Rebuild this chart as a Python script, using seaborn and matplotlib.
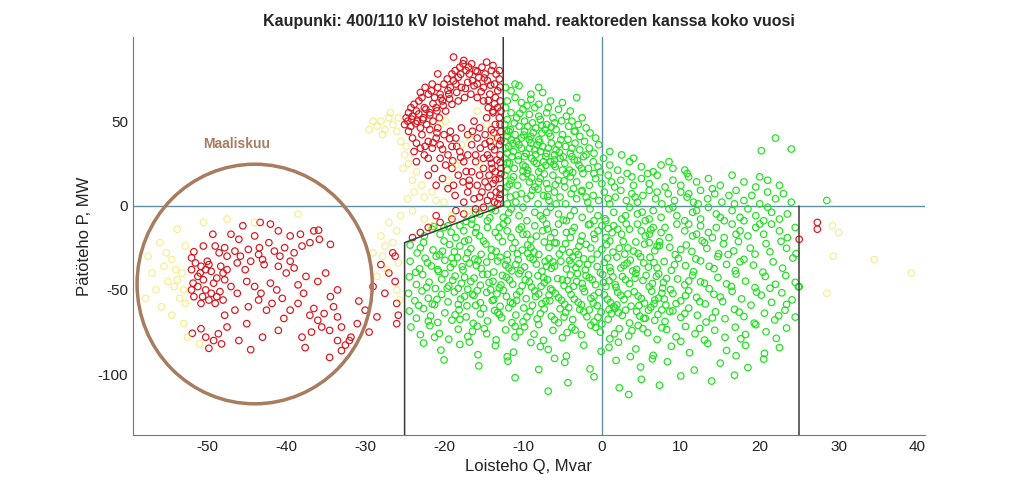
import numpy as np
import pandas as pd
import seaborn as sns
import matplotlib
matplotlib.use("Agg")
import matplotlib.pyplot as plt
from matplotlib.patches import Ellipse

# Loisteho Q (Mvar), pätöteho P (MW) -- arvioitu kuvasta
green_pts = [
    # yläosa, Q > -12.5, P > 0
    (-12.2, 70), (-11.5, 68), (-10.5, 71), (-9.0, 66), (-7.5, 67), (-11.0, 72), (-8.0, 70),
    (-12.0, 62), (-11.0, 64), (-10.2, 61), (-9.0, 63), (-8.0, 60), (-6.5, 62), (-5.0, 61), (-3.2, 64),
    (-12.2, 58), (-11.5, 55), (-10.8, 52), (-10.0, 57), (-9.2, 54), (-8.5, 58), (-7.8, 51), (-7.0, 55),
    (-6.2, 52), (-5.5, 57), (-4.5, 53), (-3.8, 50), (-12.0, 51), (-9.8, 50), (-8.0, 53), (-6.8, 58),
    (-4.0, 56), (-2.5, 52),
    (-12.3, 48), (-11.6, 45), (-11.0, 42), (-10.5, 47), (-9.8, 44), (-9.0, 41), (-8.4, 46), (-7.6, 43),
    (-7.0, 48), (-6.5, 41), (-5.8, 45), (-5.0, 42), (-4.2, 47), (-3.5, 44), (-2.8, 41), (-2.0, 46),
    (-1.5, 43), (-12.0, 41), (-10.2, 40), (-8.8, 49), (-6.0, 49), (-3.0, 48), (-0.8, 40), (-11.8, 44),
    (-9.4, 47), (-7.2, 45),
    (-12.3, 38), (-11.8, 35), (-11.2, 32), (-10.8, 38), (-10.2, 34), (-9.6, 31), (-9.0, 37), (-8.5, 33),
    (-8.0, 39), (-7.5, 35), (-7.0, 31), (-6.4, 37), (-5.8, 33), (-5.2, 39), (-4.6, 35), (-4.0, 31),
    (-3.4, 37), (-2.8, 33), (-2.2, 38), (-1.6, 34), (-1.0, 31), (-0.4, 36), (-12.0, 31), (-10.5, 36),
    (-9.2, 39), (-7.8, 32), (-6.8, 34), (-5.5, 36), (-3.8, 34), (1.0, 32), (2.5, 30), (-11.5, 39),
    (-8.2, 36), (-6.0, 30), (-2.0, 30),
    (-12.3, 28), (-11.7, 25), (-11.1, 22), (-10.6, 27), (-10.0, 24), (-9.4, 21), (-8.9, 28), (-8.3, 25),
    (-7.7, 22), (-7.1, 29), (-6.5, 26), (-5.9, 23), (-5.3, 28), (-4.7, 25), (-4.1, 21), (-3.5, 27),
    (-2.9, 24), (-2.3, 29), (-1.7, 22), (-1.1, 26), (-0.5, 23), (0.2, 28), (1.0, 24), (2.0, 21),
    (3.5, 26), (5.0, 23), (6.5, 20), (-12.0, 21), (-9.8, 29), (-7.4, 26), (-5.0, 21), (-2.6, 22),
    (-0.2, 20), (4.0, 28), (7.5, 24), (9.0, 22), (10.5, 21), (-11.4, 29), (-8.0, 20), (-6.0, 27),
    (-3.8, 29), (8.5, 26),
    (-12.3, 18), (-11.5, 15), (-10.7, 12), (-10.0, 17), (-9.2, 14), (-8.5, 11), (-7.8, 16), (-7.0, 13),
    (-6.2, 18), (-5.5, 15), (-4.7, 11), (-4.0, 17), (-3.2, 14), (-2.4, 19), (-1.6, 12), (-0.8, 16),
    (0.0, 13), (0.8, 18), (1.6, 11), (2.4, 15), (3.2, 19), (4.0, 12), (5.0, 16), (6.0, 13), (7.0, 18),
    (8.0, 11), (9.0, 15), (10.0, 12), (11.0, 17), (12.0, 14), (13.5, 16), (15.0, 12), (16.5, 18),
    (18.0, 14), (19.5, 11), (21.0, 15), (-12.0, 11), (-9.5, 19), (-6.8, 10), (-3.6, 10), (-1.0, 19),
    (1.2, 14), (3.8, 17), (5.8, 19), (10.8, 19), (14.0, 10), (20.0, 17), (22.5, 12), (-11.2, 17),
    (-8.0, 14), (-4.5, 19),
    (-12.3, 8), (-11.6, 5), (-10.9, 2), (-10.2, 7), (-9.5, 4), (-8.8, 9), (-8.1, 1), (-7.4, 6), (-6.7, 3),
    (-6.0, 8), (-5.3, 5), (-4.6, 1), (-3.9, 7), (-3.2, 4), (-2.5, 9), (-1.8, 2), (-1.1, 6), (-0.4, 3),
    (0.3, 8), (1.0, 1), (1.7, 5), (2.4, 9), (3.1, 3), (3.8, 7), (4.5, 2), (5.2, 6), (6.0, 9), (6.8, 4),
    (7.6, 1), (8.4, 7), (9.2, 3), (10.0, 8), (10.8, 5), (11.6, 2), (12.5, 9), (13.4, 4), (14.3, 7),
    (15.2, 2), (16.1, 6), (17.0, 9), (18.0, 3), (19.0, 6), (20.0, 1), (21.0, 8), (22.0, 4), (23.0, 7),
    (24.0, 2), (-12.0, 1), (-9.0, 6), (-5.8, 1), (-2.0, 5), (0.8, 4), (4.2, 5), (7.0, 8), (11.0, 7),
    (16.8, 1), (12.2, 1),
    (20.2, 32.5), (22.0, 40), (24.0, 33.5), (28.5, 3),
    # alaosa, P < 0
    (-16.5, -8), (-15.5, -5), (-14.5, -9), (-13.5, -3), (-12.5, -7), (-11.5, -2), (-10.5, -6),
    (-9.5, -9), (-8.5, -4), (-7.5, -8), (-6.5, -1), (-5.5, -5), (-4.5, -9), (-3.5, -3), (-2.5, -7),
    (-1.5, -2), (-0.5, -6), (0.5, -9), (1.5, -4), (2.5, -8), (3.5, -1), (4.5, -5), (5.5, -9), (6.5, -3),
    (7.5, -7), (8.5, -2), (9.5, -6), (10.5, -9), (11.5, -4), (12.5, -8), (13.5, -1), (14.5, -5),
    (15.5, -9), (16.5, -3), (17.5, -7), (18.5, -2), (19.5, -6), (20.5, -9), (21.5, -4), (22.5, -8),
    (-14.0, -2), (-10.0, -1), (-7.0, -4), (-4.0, -6), (-1.0, -9), (3.0, -6), (6.0, -8), (9.0, -1),
    (12.0, -3), (15.0, -7), (18.0, -9), (21.0, -1), (23.5, -5), (-12.0, -9), (-16.0, -4),
    (-22.5, -18), (-21.5, -14), (-20.5, -17), (-19.5, -12), (-18.5, -19), (-17.5, -15), (-16.5, -11),
    (-15.5, -18), (-14.5, -13), (-13.5, -16), (-12.5, -11), (-11.5, -19), (-10.5, -14), (-9.5, -17),
    (-8.5, -12), (-7.5, -15), (-6.5, -19), (-5.5, -11), (-4.5, -16), (-3.5, -13), (-2.5, -18),
    (-1.5, -11), (-0.5, -15), (0.5, -19), (1.5, -12), (2.5, -17), (3.5, -14), (4.5, -11), (5.5, -18),
    (6.5, -13), (7.5, -16), (8.5, -19), (9.5, -11), (10.5, -15), (11.5, -18), (12.5, -12), (13.5, -16),
    (14.5, -13), (15.5, -19), (16.5, -11), (17.5, -15), (18.5, -18), (19.5, -13), (20.5, -17),
    (21.5, -11), (22.5, -15), (23.5, -19), (24.5, -13), (-20.0, -13), (-16.0, -16), (-13.0, -13),
    (-10.0, -17), (-7.0, -11), (-4.0, -19), (-1.0, -17), (2.0, -14), (5.0, -15), (8.0, -13), (11.0, -11),
    (14.0, -19), (17.0, -17), (20.0, -11), (-18.0, -12), (-12.0, -15), (-6.0, -16), (0.0, -12),
    (6.0, -17), (12.0, -17),
    (-24.3, -23.4), (-23.4, -28.1), (-22.6, -21.9), (-21.4, -26.3), (-20.6, -29.2), (-19.3, -23.1),
    (-18.7, -27.4), (-17.4, -21.2), (-16.6, -25.6), (-15.3, -28.9), (-14.7, -22.8), (-13.4, -27.1),
    (-12.6, -21.4), (-11.3, -25.3), (-10.7, -28.6), (-9.4, -23.3), (-8.6, -27.5), (-7.3, -21.6),
    (-6.7, -24.8), (-5.4, -28.7), (-4.6, -22.6), (-3.3, -27.3), (-2.7, -21.1), (-1.4, -25.2),
    (-0.6, -28.8), (0.6, -23.2), (1.4, -27.6), (2.7, -21.3), (3.3, -25.1), (4.6, -28.4), (5.4, -22.9),
    (6.7, -26.8), (7.3, -21.5), (8.6, -24.7), (9.3, -29.1), (10.7, -23.4), (11.4, -27.2), (12.7, -20.9),
    (13.3, -25.4), (14.8, -28.6), (15.4, -22.7), (16.7, -26.9), (17.3, -21.3), (18.8, -25.2),
    (19.4, -28.8), (20.8, -22.6), (21.3, -27.4), (22.7, -21.2), (23.4, -25.3), (24.6, -28.5),
    (-23.0, -25), (-20.0, -21), (-17.0, -28), (-14.0, -26), (-11.0, -22), (-8.0, -29), (-5.0, -26),
    (-2.0, -23), (1.0, -21), (4.0, -27), (7.0, -24), (10.0, -26), (13.0, -22), (16.0, -29),
    (-18.0, -24), (-12.0, -29), (-6.0, -22), (0.0, -26), (6.0, -22), (-15.0, -21), (-9.0, -25), (-3.0, -29),
    (-24.3, -33), (-23.1, -37.5), (-22.4, -31.2), (-21.6, -35.8), (-20.7, -39.1), (-19.9, -32.4),
    (-19.2, -36.6), (-18.3, -30.8), (-17.6, -38.2), (-16.8, -34.1), (-16.1, -31.7), (-15.3, -37.3),
    (-14.6, -33.5), (-13.7, -39.4), (-12.9, -30.6), (-12.2, -35.2), (-11.4, -38.7), (-10.6, -32.1),
    (-9.8, -36.4), (-9.1, -30.9), (-8.3, -34.7), (-7.6, -38.9), (-6.7, -31.5), (-6.0, -35.9),
    (-5.2, -33.0), (-4.5, -37.6), (-3.7, -30.3), (-2.9, -34.4), (-2.1, -38.1), (-1.3, -31.8),
    (-0.6, -36.2), (0.3, -33.7), (1.1, -39.0), (1.9, -30.5), (2.8, -35.4), (3.6, -32.3), (4.4, -37.8),
    (5.3, -34.0), (6.1, -30.7), (7.0, -36.9), (7.9, -33.2), (8.8, -38.4), (9.7, -31.3), (10.6, -35.6),
    (11.6, -39.2), (12.5, -32.8), (13.6, -36.0), (14.7, -30.2), (15.8, -34.9), (16.9, -38.6),
    (18.0, -31.9), (19.2, -35.3), (20.4, -39.5), (21.7, -33.4), (22.9, -37.1), (24.2, -31.1),
    (-23.6, -39.6), (-21.0, -30.1), (-18.8, -34.3), (-15.9, -35.5), (-13.2, -32.9), (-10.9, -34.9),
    (-8.7, -32.0), (-6.4, -37.2), (-4.1, -32.6), (-1.8, -35.0), (0.7, -31.2), (2.4, -37.0), (4.9, -30.4),
    (6.6, -33.8), (9.2, -35.1), (11.9, -31.6), (14.2, -37.4), (17.5, -33.3), (-17.2, -31.4),
    (-11.8, -37.0), (-7.2, -33.1), (-3.3, -36.8), (-0.2, -39.8), (3.2, -34.1),
    (-24.4, -42.3), (-23.5, -46.8), (-22.7, -41.0), (-21.9, -45.4), (-21.1, -49.2), (-20.3, -43.6),
    (-19.4, -47.7), (-18.6, -41.8), (-17.8, -46.1), (-17.0, -49.6), (-16.2, -43.0), (-15.4, -47.2),
    (-14.5, -40.7), (-13.8, -44.9), (-13.0, -48.8), (-12.1, -42.5), (-11.3, -46.6), (-10.5, -40.4),
    (-9.7, -44.1), (-8.9, -48.3), (-8.1, -41.6), (-7.3, -45.8), (-6.5, -49.4), (-5.6, -43.3),
    (-4.8, -47.4), (-4.0, -41.2), (-3.2, -45.0), (-2.4, -49.0), (-1.6, -42.8), (-0.8, -46.9),
    (0.1, -40.9), (0.9, -44.6), (1.8, -48.5), (2.6, -42.1), (3.5, -46.3), (4.3, -40.2), (5.2, -44.4),
    (6.0, -48.1), (6.9, -41.9), (7.8, -45.6), (8.7, -49.8), (9.6, -43.5), (10.5, -47.0), (11.5, -41.3),
    (12.5, -45.2), (13.6, -49.3), (14.7, -42.6), (15.8, -46.4), (17.0, -40.6), (18.2, -44.8),
    (19.4, -48.6), (20.7, -42.0), (22.0, -46.7), (23.3, -41.5), (24.5, -45.5), (24.9, -48.2),
    (-22.2, -48.4), (-19.9, -40.3), (-16.6, -45.0), (-14.1, -49.9), (-11.7, -44.2), (-9.3, -41.1),
    (-6.9, -43.9), (-4.4, -44.5), (-2.0, -41.5), (0.5, -48.0), (3.0, -44.0), (5.6, -41.4), (8.2, -43.2),
    (11.0, -44.7), (13.0, -46.0), (16.4, -48.0), (21.3, -49.0), (-18.2, -49.1), (-12.6, -41.4),
    (-7.7, -47.9), (-3.6, -47.9), (1.4, -42.3), (6.4, -46.2), (-1.2, -44.0), (-10.1, -47.5),
    (-24.5, -52.0), (-23.7, -56.4), (-22.8, -50.6), (-22.0, -54.9), (-21.2, -58.8), (-20.3, -52.7),
    (-19.5, -57.1), (-18.7, -51.2), (-17.9, -55.5), (-17.1, -59.4), (-16.2, -53.3), (-15.4, -57.6),
    (-14.6, -51.5), (-13.7, -55.8), (-12.9, -59.7), (-12.1, -53.9), (-11.3, -58.0), (-10.4, -50.9),
    (-9.6, -55.2), (-8.8, -59.1), (-8.0, -52.4), (-7.1, -56.7), (-6.3, -50.3), (-5.5, -54.6),
    (-4.7, -58.5), (-3.9, -52.8), (-3.0, -57.3), (-2.2, -51.0), (-1.4, -55.0), (-0.6, -59.3),
    (0.3, -53.0), (1.1, -57.5), (2.0, -51.4), (2.8, -55.7), (3.7, -59.6), (4.6, -53.6), (5.4, -57.8),
    (6.3, -50.7), (7.2, -54.8), (8.1, -58.9), (9.0, -52.2), (10.0, -56.5), (11.0, -50.5), (12.0, -54.4),
    (13.1, -58.3), (14.2, -52.6), (15.3, -56.9), (16.5, -50.8), (17.7, -55.3), (18.9, -59.0),
    (20.2, -53.1), (21.5, -57.4), (22.8, -51.7), (24.1, -55.9), (-23.2, -59.2), (-20.9, -55.6),
    (-18.2, -58.6), (-15.8, -50.4), (-13.3, -52.3), (-10.8, -56.2), (-8.4, -54.0), (-5.9, -52.1),
    (-3.5, -55.4), (-1.0, -53.6), (1.5, -59.9), (4.1, -51.1), (6.7, -56.0), (9.4, -58.1), (12.4, -57.0),
    (15.0, -54.2), (19.6, -51.3), (23.4, -58.6), (-17.4, -53.8), (-12.5, -50.2), (-7.6, -58.2),
    (-2.6, -58.8), (2.4, -53.2), (7.6, -52.0), (0.7, -55.5), (5.0, -55.1), (-5.1, -56.1), (10.6, -53.4),
    (-24.4, -62.5), (-23.5, -66.8), (-22.6, -61.1), (-21.7, -65.4), (-20.8, -69.3), (-19.9, -63.6),
    (-19.0, -67.9), (-18.1, -61.8), (-17.2, -66.0), (-16.3, -69.8), (-15.4, -64.2), (-14.5, -68.4),
    (-13.6, -62.2), (-12.7, -66.5), (-11.8, -60.6), (-10.9, -64.9), (-10.0, -68.9), (-9.1, -62.9),
    (-8.2, -67.2), (-7.3, -61.3), (-6.4, -65.6), (-5.5, -69.5), (-4.6, -63.4), (-3.7, -67.6),
    (-2.8, -61.6), (-1.9, -65.9), (-1.0, -69.0), (-0.1, -63.1), (0.8, -67.4), (1.7, -60.9), (2.6, -65.1),
    (3.5, -69.6), (4.4, -62.7), (5.3, -66.9), (6.2, -60.4), (7.1, -64.6), (8.0, -68.7), (9.0, -62.4),
    (10.0, -66.3), (11.0, -60.8), (12.1, -65.0), (13.2, -69.1), (14.4, -63.0), (15.6, -67.1),
    (16.8, -61.5), (18.0, -65.8), (19.3, -69.7), (20.6, -63.8), (21.9, -67.8), (23.2, -62.0),
    (24.5, -66.1), (-22.0, -68.5), (-18.6, -64.8), (-15.0, -61.0), (-11.4, -69.4), (-7.8, -64.0),
    (-4.2, -60.5), (-0.5, -66.2), (3.0, -62.0), (6.7, -68.0), (10.5, -64.0), (14.0, -66.6),
    (17.4, -63.2), (22.4, -65.3), (-13.0, -64.5), (-6.0, -67.7), (1.2, -64.1), (7.6, -61.8),
    (4.8, -65.5), (-2.3, -63.0), (-9.5, -66.0),
    (-24.2, -72.0), (-23.0, -76.5), (-21.8, -71.2), (-20.6, -75.8), (-19.4, -79.2), (-18.2, -73.3),
    (-17.0, -77.6), (-15.8, -71.5), (-14.6, -75.9), (-13.4, -79.6), (-12.2, -73.7), (-11.0, -77.9),
    (-9.8, -71.9), (-8.6, -76.2), (-7.4, -79.9), (-6.2, -74.0), (-5.0, -78.3), (-3.8, -72.3),
    (-2.6, -76.6), (-1.4, -70.9), (-0.2, -75.0), (1.0, -79.0), (2.2, -73.0), (3.4, -77.2), (4.6, -71.1),
    (5.8, -75.4), (7.0, -79.4), (8.2, -73.5), (9.4, -77.8), (10.6, -71.7), (11.8, -76.0), (13.0, -79.7),
    (14.3, -73.9), (15.6, -78.1), (16.9, -72.1), (18.2, -76.4), (19.5, -70.6), (20.8, -74.8),
    (22.1, -78.7), (23.4, -72.6), (-16.4, -74.5), (-10.4, -74.8), (-4.4, -75.3), (1.6, -76.0),
    (7.6, -72.4), (12.4, -72.8), (17.6, -79.0), (-21.2, -78.0), (-0.8, -72.2), (5.2, -73.0),
    (-22.6, -81.5), (-20.4, -85.7), (-18.0, -82.3), (-15.7, -88.4), (-13.5, -83.0), (-11.2, -86.9),
    (-9.0, -81.2), (-6.8, -85.3), (-4.5, -89.1), (-2.3, -82.7), (-0.1, -86.4), (2.1, -81.0),
    (4.3, -85.0), (6.5, -88.8), (8.8, -83.4), (11.1, -87.2), (13.4, -81.7), (15.8, -85.9),
    (18.2, -82.9), (20.6, -87.6), (-16.8, -80.9), (-7.8, -83.6), (0.9, -84.0), (10.0, -80.5),
    (22.5, -84.2), (-12.0, -89.6), (3.6, -89.5), (17.0, -89.0),
    (-20.0, -91.5), (-15.6, -95.0), (-11.9, -92.2), (-8.0, -97.1), (-4.7, -93.0), (-1.5, -96.8),
    (1.8, -91.8), (4.9, -95.7), (8.3, -92.6), (11.7, -97.5), (15.0, -93.4), (18.5, -96.0),
    (-6.0, -90.6), (6.4, -90.9), (20.5, -91.0),
    (-11.0, -102.0), (-4.3, -105.0), (-1.0, -101.5), (2.2, -108.0), (5.0, -103.0), (7.3, -106.5),
    (10.0, -101.0), (13.9, -104.0), (-6.8, -110.0), (3.4, -112.0), (16.8, -100.5), (25.0, -48.0),
]

# tihein ydin (lisäpisteet)
green_core = [
    (-21.3, -12.5), (-19.1, -15.8), (-17.2, -9.4), (-15.9, -13.1), (-14.2, -7.2), (-13.1, -18.6),
    (-11.8, -4.3), (-10.2, -12.7), (-9.0, -20.4), (-7.8, -6.1), (-6.9, -13.9), (-5.8, -22.2),
    (-4.9, -8.6), (-3.8, -15.3), (-2.9, -24.1), (-1.7, -11.4), (-0.9, -19.7), (0.4, -7.8),
    (1.3, -16.1), (2.2, -25.3), (3.1, -10.9), (4.3, -21.6), (5.1, -3.9), (6.2, -14.4), (7.3, -23.8),
    (-22.1, -33.9), (-20.2, -27.1), (-18.9, -44.3), (-17.7, -36.2), (-16.4, -52.6), (-15.1, -40.8),
    (-14.0, -30.1), (-12.8, -47.1), (-11.6, -57.3), (-10.3, -38.5), (-9.4, -28.3), (-8.5, -50.6),
    (-7.4, -42.7), (-6.2, -33.4), (-5.3, -61.2), (-4.2, -49.8), (-3.1, -40.3), (-2.3, -31.6),
    (-1.1, -57.8), (0.2, -45.6), (1.0, -36.7), (2.1, -63.5), (3.3, -52.4), (4.2, -43.1), (5.5, -66.8),
    (6.6, -58.2), (7.7, -48.9), (8.6, -62.7), (-21.5, -58.4), (-19.6, -49.0), (-18.0, -67.5),
    (-16.0, -59.1), (-14.9, -73.0), (-13.2, -63.4), (-11.0, -71.6), (-9.9, -60.7), (-8.0, -70.5),
    (-6.6, -56.4), (-4.8, -66.1), (-3.4, -73.8), (-1.6, -61.9), (0.0, -70.2), (1.9, -58.9),
    (3.8, -74.1), (5.9, -62.0), (7.9, -55.4),
    (-20.8, -38.0), (-19.0, -31.0), (-17.4, -42.5), (-15.7, -32.8), (-13.9, -56.3), (-12.0, -32.5),
    (-10.8, -52.9), (-9.2, -45.3), (-7.0, -36.0), (-5.0, -44.0), (-3.9, -34.6), (-2.5, -46.2),
    (-0.4, -51.5), (1.7, -46.9), (3.9, -38.8), (5.9, -36.5), (7.2, -40.5), (-14.3, -45.6),
    (-6.7, -53.0), (0.9, -61.7), (4.7, -59.3), (-10.1, -26.4), (-4.1, -27.8), (2.9, -28.8),
    (-16.9, -20.3), (-8.3, -18.1), (0.8, -13.6),
    (-12.1, 44.5), (-11.3, 36.8), (-10.6, 29.6), (-9.9, 41.8), (-9.2, 33.9), (-8.6, 26.2),
    (-7.9, 37.6), (-7.3, 18.7), (-6.7, 42.9), (-6.1, 24.4), (-5.4, 31.4), (-4.8, 14.6), (-4.3, 39.2),
    (-3.7, 19.6), (-3.1, 26.8), (-2.6, 8.4), (-11.7, 12.6), (-10.9, 6.2), (-9.7, 23.1), (-8.9, 16.3),
    (-8.1, 9.7), (-7.6, 47.6), (-6.9, 5.3), (-5.9, 12.3), (-4.9, 28.9), (-12.0, 25.3), (-11.1, 48.9),
    (-10.4, 54.6), (-9.5, 59.2), (-8.7, 43.2), (-6.4, 46.6), (-5.1, 50.2), (-12.2, 34.0),
    (-10.0, 20.5), (-8.4, 30.2), (-7.1, 23.9), (-3.4, 44.1),
]

red_pts = [
    # kaari, Q -25...-12.5
    (-25.0, 48), (-24.8, 52), (-24.5, 55), (-24.2, 58), (-24.6, 50), (-24.0, 53), (-23.5, 56),
    (-23.8, 60), (-23.2, 62), (-22.8, 64), (-22.5, 58), (-22.0, 66), (-21.6, 68), (-21.2, 64),
    (-20.8, 70), (-20.5, 66), (-20.0, 72), (-19.6, 75), (-19.2, 70), (-19.0, 78), (-18.6, 80),
    (-18.2, 76), (-18.0, 82), (-17.6, 84), (-17.2, 80), (-16.8, 78), (-16.5, 84), (-16.0, 80),
    (-15.6, 76), (-15.2, 82), (-14.8, 78), (-14.5, 74), (-14.0, 80), (-13.6, 72), (-13.2, 68),
    (-13.0, 75), (-13.5, 64), (-14.2, 66), (-15.0, 70), (-15.8, 72), (-16.4, 74), (-17.0, 73),
    (-17.8, 70), (-18.5, 72), (-19.4, 66), (-20.2, 62), (-21.0, 58), (-21.8, 55), (-22.6, 52),
    (-23.4, 50), (-24.2, 47), (-23.0, 46), (-22.2, 48), (-21.4, 50), (-20.6, 52), (-19.8, 56),
    (-19.0, 60), (-18.2, 62), (-17.4, 64), (-16.6, 66), (-15.8, 64), (-15.0, 62), (-14.4, 58),
    (-13.8, 56), (-13.2, 58), (-18.8, 88), (-17.5, 86), (-14.6, 85), (-13.8, 83), (-20.8, 78),
    (-21.5, 72), (-22.4, 70), (-23.0, 67), (-13.0, 80), (-12.9, 62),
    (-24.1, 51.2), (-23.2, 54.3), (-22.3, 57.1), (-21.4, 60.4), (-20.4, 63.7), (-19.5, 68.2),
    (-18.8, 73.9), (-17.9, 77.8), (-16.9, 82.1), (-15.8, 79.3), (-14.9, 75.6), (-14.1, 71.4),
    (-13.4, 77.9), (-12.9, 70.2), (-23.6, 48.6), (-22.7, 50.9), (-21.8, 53.7), (-20.9, 56.1),
    (-20.1, 59.3), (-19.3, 63.2), (-18.4, 67.1), (-17.3, 69.4), (-16.2, 71.0), (-15.3, 67.5),
    (-14.4, 62.3), (-13.6, 60.4),
    (-13.0, 52), (-13.5, 48), (-14.0, 45), (-12.8, 44), (-13.2, 40), (-14.2, 38), (-13.0, 36),
    (-13.6, 33), (-14.5, 30), (-12.9, 30), (-13.3, 27), (-14.0, 25), (-15.0, 22), (-12.8, 22),
    (-13.5, 20), (-14.3, 18), (-13.0, 16), (-13.8, 13), (-14.8, 14), (-12.9, 10), (-13.4, 8),
    (-14.1, 6), (-13.0, 4), (-13.6, 2), (-14.5, 3), (-15.2, 8), (-15.8, 12), (-15.5, 18), (-16.0, 26),
    (-15.4, 34), (-14.8, 42), (-15.5, 46), (-16.2, 50), (-13.8, 55), (-14.6, 52), (-15.0, 28),
    (-16.5, 20), (-16.8, 15), (-17.0, 8), (-16.2, 4), (-17.5, 2), (-12.8, 56),
    (-12.9, 48.1), (-13.7, 43.2), (-12.8, 38.4), (-14.0, 34.9), (-12.9, 25.5), (-13.9, 22.0),
    (-12.8, 18.8), (-14.4, 11.0), (-12.9, 6.6), (-13.2, 1.2), (-15.5, 5.0), (-14.2, 28.0),
    (-14.8, 36.5), (-13.5, 15.2), (-15.8, 40.0), (-16.4, 44.0),
    (-22.0, 38), (-21.5, 34), (-21.0, 40), (-20.5, 36), (-20.0, 42), (-19.5, 30), (-19.0, 35),
    (-18.5, 40), (-18.0, 32), (-17.5, 26), (-17.0, 30), (-16.5, 36), (-19.8, 24), (-19.0, 22),
    (-18.2, 18), (-17.6, 14), (-18.8, 12), (-20.5, 28), (-21.2, 22), (-22.5, 30), (-23.0, 34),
    (-23.5, 26), (-22.8, 42), (-21.8, 45), (-20.8, 46), (-17.0, 42), (-17.8, 46), (-16.8, 12),
    (-18.6, 6), (-19.5, 10), (-20.2, 16), (-21.0, 12), (-22.0, 18), (-16.0, 30), (-19.2, 44),
    (-24.5, 44), (-24.0, 40), (-23.5, 37), (-23.8, 32), (-22.0, 28),
    (-21.4, 37.2), (-20.2, 33.4), (-19.3, 39.6), (-18.4, 35.1), (-17.9, 28.6), (-20.9, 43.1),
    (-22.4, 35.1), (-18.9, 26.5), (-17.2, 20.2),
    # vinoviivan alla ja Q < -25
    (-16.0, -2), (-17.5, -5), (-19.0, -8), (-20.5, -10), (-22.0, -13), (-23.0, -16), (-24.0, -19),
    (-21.0, -6), (-18.5, -3), (-15.0, -1),
    (-26.5, -28), (-28.0, -35), (-27.0, -40), (-26.2, -45), (-29.0, -48), (-27.5, -52), (-26.0, -58),
    (-30.0, -62), (-28.5, -66), (-31.0, -70), (-29.5, -75), (-32.0, -80), (-33.0, -86), (-34.5, -90),
    (-26.0, -70), (-25.8, -65), (-26.2, -30),
    (27.3, -10), (27.3, -14), (25.0, -20),
    # maaliskuu
    (-51.5, -34), (-50.8, -36), (-50.2, -38), (-50.9, -40), (-49.8, -35), (-51.2, -42), (-50.0, -33),
    (-49.5, -39), (-52.0, -38), (-50.5, -44),
    (-48.0, -40), (-48.8, -43), (-47.8, -44), (-49.2, -46), (-47.5, -38), (-48.3, -36),
    (-49.5, -52), (-48.8, -54), (-49.8, -56), (-48.4, -51), (-50.2, -50), (-49.0, -58), (-48.0, -56),
    (-50.6, -54),
    (-48.5, -28), (-47.5, -30), (-47.8, -25), (-49.0, -24), (-46.5, -27), (-45.8, -30), (-46.2, -34),
    (-45.2, -38), (-44.5, -33), (-44.8, -26), (-43.5, -29), (-43.0, -32), (-42.8, -35), (-43.4, -25),
    (-42.2, -22), (-41.5, -27), (-40.8, -30), (-40.2, -25), (-41.0, -36), (-40.0, -40), (-39.5, -33),
    (-39.0, -28), (-38.0, -24), (-37.0, -22), (-44.0, -18), (-46.0, -20), (-47.0, -17), (-45.5, -12),
    (-43.3, -10), (-42.0, -11), (-41.0, -15), (-39.5, -18), (-38.2, -17), (-36.5, -15), (-35.8, -20),
    (-35.9, -14.6), (-34.4, -23), (-49.3, -17), (-51.7, -27.4), (-50.5, -24), (-52.0, -31),
    (-51.8, -46), (-52.0, -50), (-51.7, -54), (-50.8, -58), (-51.2, -48),
    (-47.0, -48), (-46.2, -52), (-45.0, -45), (-44.0, -48), (-43.2, -52), (-42.0, -46), (-41.2, -50),
    (-40.5, -55), (-41.8, -58), (-43.5, -56), (-44.8, -60), (-46.5, -62), (-47.8, -65), (-42.5, -62),
    (-40.3, -66.9), (-39.5, -62), (-38.5, -58), (-37.8, -52), (-37.0, -65), (-36.5, -61), (-36.0, -68),
    (-35.2, -64), (-34.4, -54), (-34.0, -60), (-33.5, -66), (-33.0, -72), (-34.5, -74), (-35.5, -72),
    (-36.8, -75), (-38.0, -78), (-37.6, -84.2), (-32.5, -82.7), (-33.5, -80), (-31.8, -78),
    (-30.8, -56.6), (-36.0, -45), (-35.0, -40), (-37.5, -42), (-38.5, -47), (-39.0, -37), (-33.5, -50),
    (-51.9, -75.7), (-50.8, -73), (-49.8, -84.6), (-50.2, -78), (-49.2, -80), (-48.6, -76),
    (-47.5, -72), (-44.5, -85.4), (-45.0, -70), (-43.0, -78), (-41.0, -74), (-46.0, -80), (-48.2, -82),
]

yellow_pts = [
    (-28.5, 47), (-28.0, 50), (-27.5, 45), (-27.0, 52), (-26.5, 48), (-26.0, 44), (-27.8, 42),
    (-29.5, 45), (-26.8, 55), (-25.8, 52), (-29.0, 50),
    (-25.5, 38), (-24.8, 35), (-25.0, 30), (-24.5, 25), (-23.5, 20), (-25.2, 22), (-24.0, 15),
    (-22.8, 12), (-23.8, 8), (-22.5, 5), (-21.0, 3), (-20.0, 2), (-24.6, 4), (-21.5, 8), (-19.5, 15),
    (-18.5, 24), (-17.8, 36), (-16.8, 40), (-19.8, 50), (-20.5, 48), (-15.8, 56), (-14.6, 48),
    (-13.8, 40), (-15.4, 24),
    (-24.0, -3), (-25.5, -6), (-22.5, -8), (-27.0, -10), (-26.0, -15), (-28.0, -18), (-27.5, -24),
    (-26.5, -22), (-29.0, -28), (-25.8, -34), (-27.2, -38), (-28.5, -42), (-26.0, -50), (-25.6, -56),
    (-27.8, -30), (-19.0, -6), (-17.0, -3), (-21.5, -12),
    (-56.0, -22), (-55.2, -28), (-54.5, -32), (-55.5, -36), (-54.0, -38), (-53.2, -40), (-53.8, -44),
    (-55.0, -45), (-54.2, -48), (-53.0, -50), (-53.5, -55), (-52.8, -58), (-56.5, -50), (-57.0, -40),
    (-57.5, -30), (-54.5, -65), (-53.0, -70), (-52.5, -78), (-51.0, -82), (-57.8, -55), (-55.8, -60),
    (-50.5, -10), (-47.5, -8), (-44.0, -10), (-38.5, -5), (-53.8, -14), (-52.8, -24),
    (29.2, -12), (30.0, -16), (29.3, -30), (34.5, -32), (39.2, -40), (28.5, -52),
]

# rajaviivat
limit_q = [-12.5, -12.5, -25.0, -25.0]
limit_p = [100.0, 0.0, -22.0, -136.0]
right_q = [25.0, 25.0]
right_p = [0.0, -136.0]

xticks = [-50, -40, -30, -20, -10, 0, 10, 20, 30, 40]
yticks = [-100, -50, 0, 50]

sns.set_style("white")
plt.rcParams['font.family'] = ['Liberation Sans', 'DejaVu Sans']
plt.rcParams['axes.unicode_minus'] = False

fig = plt.figure(figsize=(10.24, 4.91), dpi=100)
ax = fig.add_axes([0.13, 0.114, 0.773, 0.811])

groups = [(green_pts + green_core, '#1fe01f', 1.0), (red_pts, '#d8141c', 1.0), (yellow_pts, '#f0e030', 0.55)]
for pts, col, a in groups:
    df = pd.DataFrame(pts, columns=['Q', 'P'])
    sns.scatterplot(data=df, x='Q', y='P', ax=ax, s=22, marker='o', color=col,
                    facecolor='none', edgecolor=col, linewidth=0.85, alpha=a, zorder=3)

ax.axhline(0, color='#5f8fa0', lw=1.0, zorder=2)
ax.axvline(0, color='#5f8fa0', lw=1.0, zorder=2)
ax.plot(limit_q, limit_p, color='#3a3a3a', lw=1.1, zorder=4)
ax.plot(right_q, right_p, color='#3a3a3a', lw=1.1, zorder=4)

ax.add_patch(Ellipse((-44.0, -46.5), 29.8, 142, fill=False, edgecolor='#a87c5e', lw=2.5, zorder=5))
ax.text(-46.3, 36.5, 'Maaliskuu', color='#a87c5e', fontsize=10, fontweight='bold',
        ha='center', va='center')

ax.set_xlim(-59.4, 40.9)
ax.set_ylim(-136, 100)
ax.set_xticks(xticks)
ax.set_yticks(yticks)
ax.tick_params(direction='in', length=4, color='#555555', labelsize=11, colors='#222222')
for side in ['top', 'right']:
    ax.spines[side].set_visible(False)
for side in ['left', 'bottom']:
    ax.spines[side].set_color('#777777')
    ax.spines[side].set_linewidth(0.8)

ax.set_xlabel('Loisteho Q, Mvar', fontsize=12, color='#222222')
ax.set_ylabel('Pätöteho P, MW', fontsize=12, color='#222222')
ax.set_title('Kaupunki: 400/110 kV loistehot mahd. reaktoreden kanssa koko vuosi',
             fontsize=11.5, fontweight='bold', pad=8)

fig.savefig('out.png', dpi=100)
